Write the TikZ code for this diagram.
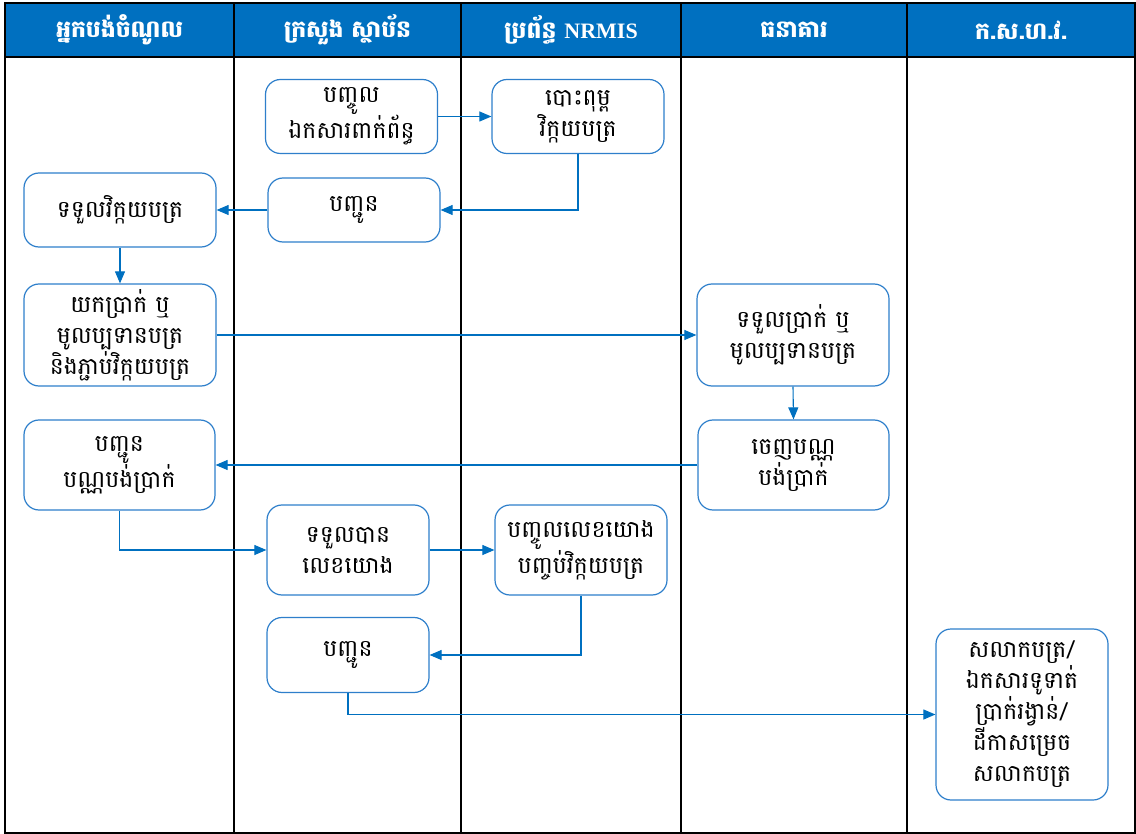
\documentclass[tikz,border=0pt]{standalone}
\usepackage{fontspec}
\usetikzlibrary{arrows.meta}
\newfontfamily\khmer[Script=Khmer]{Battambang}
\newfontfamily\latinserif{Liberation Serif}
\definecolor{laneblue}{HTML}{0070C0}
\definecolor{boxblue}{HTML}{2E7FCB}
\tikzset{
  flowbox/.style={draw=boxblue, line width=1.2pt, rounded corners=15pt, fill=white,
    align=center, inner sep=2pt,
    font=\khmer\fontsize{23.5}{31}\selectfont},
  flow/.style={draw=laneblue, line width=1.1pt, -{Triangle[length=12pt,width=10pt]}},
  lanehead/.style={text=white, font=\khmer\bfseries\fontsize{23.5}{26}\selectfont, anchor=center},
}
\begin{document}
\begin{tikzpicture}[x=1pt,y=-1pt]
\useasboundingbox (0,0) rectangle (1136,834);
% header band and lane frame
\fill[laneblue] (5,3) rectangle (1135,57);
\draw[line width=1.4pt] (5,3) rectangle (1135,833);
\draw[line width=1.2pt] (5,57) -- (1135,57);
\foreach \x in {234,461,681,907} \draw[line width=1.2pt] (\x,3) -- (\x,833);
% lane titles
\node[lanehead] (h1) at (119.5,30) {អ្នកបង់ចំណូល};
\node[lanehead] (h2) at (347.5,30) {ក្រសួង ស្ថាប័ន};
\node[lanehead] (h3) at (571,30) {ប្រព័ន្ធ {\latinserif\bfseries\fontsize{22}{26}\selectfont NRMIS}};
\node[lanehead] (h4) at (794,30) {ធនាគារ};
\node[lanehead] (h5) at (1021,30) {ក.ស.ហ.វ.};
% process steps
\node[flowbox, minimum width=172pt, minimum height=74pt] (b1) at (351.5,116.5) {បញ្ចូល\\ឯកសារពាក់ព័ន្ធ};
\node[flowbox, minimum width=172pt, minimum height=74pt] (b2) at (578,116.5) {បោះពុម្ព\\វិក្កយបត្រ};
\node[flowbox, minimum width=172pt, minimum height=64pt] (b3) at (354,210) {បញ្ជូន};
\node[flowbox, minimum width=192pt, minimum height=74pt] (b4) at (120,210) {ទទួលវិក្កយបត្រ};
\node[flowbox, minimum width=192pt, minimum height=102pt] (b5) at (120,335) {យកប្រាក់ ឬ\\មូលប្បទានបត្រ\\និងភ្ជាប់វិក្កយបត្រ};
\node[flowbox, minimum width=192pt, minimum height=102pt] (b6) at (793,335) {ទទួលប្រាក់ ឬ\\មូលប្បទានបត្រ};
\node[flowbox, minimum width=191pt, minimum height=90pt] (b7) at (793.5,465) {ចេញបណ្ណ\\បង់ប្រាក់};
\node[flowbox, minimum width=191pt, minimum height=90pt] (b8) at (119.5,465) {បញ្ជូន\\បណ្ណបង់ប្រាក់};
\node[flowbox, minimum width=162pt, minimum height=90pt] (b9) at (348,550) {ទទួលបាន\\លេខយោង};
\node[flowbox, minimum width=172pt, minimum height=90pt] (b10) at (581,550) {បញ្ចូលលេខយោង\\បញ្ចប់វិក្កយបត្រ};
\node[flowbox, minimum width=162pt, minimum height=75pt] (b11) at (348,655) {បញ្ជូន};
\node[flowbox, minimum width=172pt, minimum height=171pt] (b12) at (1022,714.5) {សលាកបត្រ/\\ឯកសារទូទាត់\\ប្រាក់រង្វាន់/\\ដីកាសម្រេច\\សលាកបត្រ};
% connectors
\draw[flow] (b1.east) -- (b2.west);
\draw[flow] (b2.south) |- (b3.east);
\draw[flow] (b3.west) -- (b4.east);
\draw[flow] (b4.south) -- (b5.north);
\draw[flow] (b5.east) -- (b6.west);
\draw[flow] (b6.south) -- (b7.north);
\draw[flow] (b7.west) -- (b8.east);
\draw[flow] (b8.south) |- (b9.west);
\draw[flow] (b9.east) -- (b10.west);
\draw[flow] (b10.south) |- (b11.east);
\draw[flow] (b11.south) |- (b12.west);
\end{tikzpicture}
\end{document}
